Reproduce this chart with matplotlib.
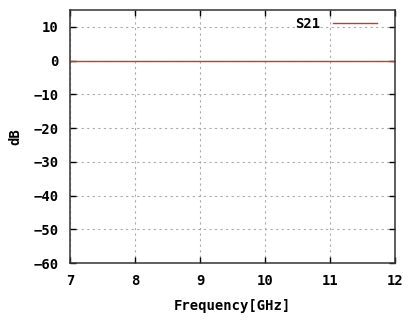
import matplotlib
matplotlib.use("Agg")
import matplotlib.pyplot as plt

# S21 transmission across the band
freq_ghz = [7, 8, 9, 10, 11, 12]
s21_db = [0, 0, 0, 0, 0, 0]

x_ticks = [7, 8, 9, 10, 11, 12]
y_ticks = [10, 0, -10, -20, -30, -40, -50, -60]

plt.rcParams['font.family'] = ['DejaVu Sans Mono']
plt.rcParams['font.weight'] = 'bold'
plt.rcParams['font.size'] = 10

fig = plt.figure(figsize=(4.1, 3.22), dpi=100)
ax = fig.add_axes([0.171, 0.183, 0.792, 0.786])

ax.plot(freq_ghz, s21_db, color='#c8383a', lw=1.0, label='S21')

ax.set_xlim(7, 12)
ax.set_ylim(-60, 15)
ax.set_xticks(x_ticks)
ax.set_yticks(y_ticks)
ax.tick_params(direction='in', length=4, width=1, top=True, right=True)
ax.tick_params(axis='x', pad=8)
ax.tick_params(axis='y', pad=8)
for lbl in ax.get_xticklabels() + ax.get_yticklabels():
    lbl.set_fontweight('bold')

ax.grid(True, color='#aaaaaa', linestyle=(0, (2, 3)), lw=0.8)
for s in ax.spines.values():
    s.set_linewidth(1.1)
    s.set_color('#333333')

ax.set_xlabel('Frequency[GHz]', fontweight='bold', labelpad=8)
ax.set_ylabel('dB', fontweight='bold', labelpad=8)

ax.legend(loc='upper right', frameon=False, markerfirst=False,
          handlelength=3.2, handletextpad=0.9, borderaxespad=0.3,
          bbox_to_anchor=(0.975, 1.01),
          prop={'weight': 'bold', 'size': 10})

fig.savefig('out.png', dpi=100)
